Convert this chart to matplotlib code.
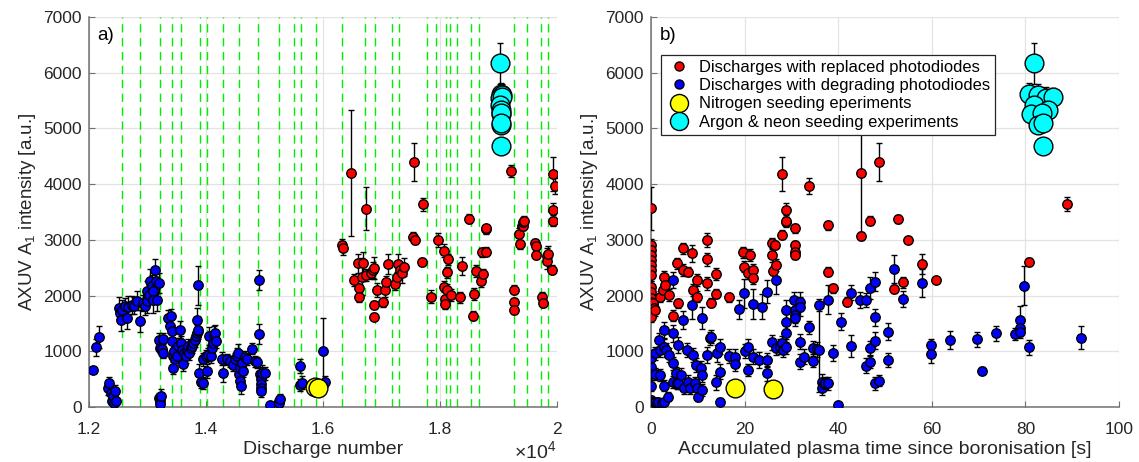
import matplotlib
matplotlib.use("Agg")
import matplotlib.pyplot as plt
from matplotlib.lines import Line2D
from matplotlib.ticker import FuncFormatter
import numpy as np

plt.rcParams['font.family'] = ['Liberation Sans', 'DejaVu Sans']
plt.rcParams['mathtext.default'] = 'regular'

# ---------------- data: panel a) (x = discharge number) ----------------
a_blue_x = [12074, 12120, 12165,
            12330, 12348, 12370, 12390, 12405, 12430, 12445, 12470,
            12519, 12530, 12547, 12564, 12615, 12644, 12672, 12729, 12769, 12815, 12872, 12917,
            12957, 12986, 12997, 13031, 13043, 13071, 13088, 13100, 13123, 13145, 13168, 13191,
            13202, 13208, 13213, 13225,
            13191, 13213, 13242, 13270, 13259,
            13356, 13402, 13385, 13419, 13413, 13430, 13430, 13453, 13470, 13499, 13527, 13556,
            13567, 13584, 13613, 13624, 13658, 13670, 13687, 13715, 13738, 13755, 13783, 13812,
            13829, 13840, 13852, 13858, 13863, 13869,
            13886, 13909, 13943, 13954, 14000, 14011, 14040, 14057, 14080, 14097, 14114, 14137, 14154, 14171,
            14268, 14296, 14353, 14410, 14467, 14496, 14524, 14553, 14564, 14581, 14581, 14593, 14610, 14627, 14667, 14695,
            14792, 14838, 14866, 14912, 14912, 14923, 14934, 14934, 14940, 14940, 14952, 15009, 15094,
            15248, 15254, 15260,
            15607, 15607, 15647,
            15994, 16034]
a_blue_y = [656, 1073, 1252,
            346, 435, 257, 107, 197, 77, 286, 107,
            1777, 1688, 1568, 1747, 1807, 1598, 1795, 1837, 1819, 1908, 1550, 1866,
            1807, 2075, 1896, 2015, 2254, 2165, 2075, 1926, 2463, 2254, 1926, 2224,
            167, 107, 48, 197,
            1210, 1061, 1043, 972, 1222,
            1598, 1628, 1449, 1360, 1181, 912, 704, 1002, 853, 912, 1091, 1389,
            1151, 1032, 763, 972, 912, 1032, 1091, 972, 1061, 1091, 1151, 1210,
            1270, 1330, 1568, 2182, 1360, 1389,
            614, 453, 435, 853, 912, 644, 942, 1270, 912, 1061, 1151, 1300, 1330, 1181,
            865, 614, 853, 823, 745, 853, 912, 972, 584, 704, 465, 376, 793, 644, 900, 853,
            1043, 823, 805, 2284, 1318, 584, 495, 405, 346, 286, 614, 602, 36,
            100, 77, 137,
            733, 394, 435,
            1005, 454]
a_blue_err = [30, 150, 200,
              130, 100, 100, 60, 90, 60, 100, 60,
              200, 150, 200, 180, 150, 200, 200, 160, 150, 170, 200, 150,
              160, 180, 200, 170, 220, 200, 170, 230, 200, 220, 200, 180,
              80, 60, 40, 120,
              120, 100, 100, 90, 100,
              150, 130, 120, 120, 150, 100, 120, 130, 120, 130, 150, 150,
              130, 130, 120, 130, 130, 120, 130, 120, 110, 120, 110, 130,
              120, 140, 200, 350, 140, 120,
              150, 120, 110, 120, 110, 130, 120, 160, 120, 130, 120, 150, 150, 130,
              120, 160, 100, 100, 100, 120, 140, 160, 120, 100, 140, 150, 120, 100, 110, 100,
              100, 100, 100, 180, 180, 130, 100, 100, 100, 100, 140, 110, 40,
              80, 60, 100,
              120, 100, 120,
              600, 100]

a_red_x = [16319, 16336, 16479, 16536, 16604, 16616, 16621, 16661, 16690, 16730, 16735,
           16815, 16849, 16872, 16872, 16878, 16918, 17032, 17060, 17077, 17106, 17231,
           17259, 17288, 17316, 17345, 17385, 17533, 17561, 17573, 17687, 17710, 17846,
           17972, 18068, 18068, 18086, 18086, 18114, 18114, 18143, 18183, 18342, 18382,
           18502, 18559, 18581, 18610, 18701, 18713, 18730, 18781, 18781, 18787, 19220,
           19271, 19271, 19271, 19351, 19368, 19396, 19413, 19425, 19436, 19624, 19641,
           19641, 19738, 19767, 19824, 19835, 19852, 19909, 19938, 19938, 19938, 19972]
a_red_y = [2908, 2848, 4207, 2280, 2579, 2130, 1969, 2340, 2579, 3561, 2370,
           2400, 2460, 2501, 1831, 1622, 2101, 1879, 2101, 2250, 2561, 2202,
           2328, 2567, 2460, 2400, 2519, 3058, 4392, 2998, 2609, 3638, 1981,
           2998, 2807, 2160, 1933, 1843, 2418, 2101, 2651, 2011, 1969, 2531,
           3381, 1640, 2029, 2442, 2262, 2777, 2382, 2789, 3189, 3208, 4237,
           2101, 1879, 1742, 3106, 2920, 3249, 3255, 3327, 3345, 2938, 2890,
           2729, 1981, 1873, 2711, 2627, 2741, 2460, 3537, 3345, 4183, 3968]
a_red_err = [100, 120, 1130, 100, 170, 80, 80, 330, 200, 390, 100,
             100, 150, 200, 80, 60, 120, 80, 120, 100, 180, 100,
             100, 180, 120, 180, 160, 80, 340, 80, 70, 120, 120,
             130, 120, 100, 80, 80, 100, 100, 100, 100, 100, 170,
             80, 80, 110, 100, 100, 80, 100, 80, 80, 60, 100,
             80, 80, 80, 100, 80, 80, 80, 80, 80, 80, 80,
             80, 80, 80, 150, 150, 150, 80, 120, 100, 300, 150]

a_yellow_x = [15870, 15919]
a_yellow_y = [364, 335]

a_cyan_x = [19026, 19035, 19054, 19030, 19058, 19030, 19050, 19040, 19045, 19035, 19040, 19043]
a_cyan_y = [6169, 5619, 5601, 5541, 5571, 5421, 5332, 5260, 5272, 5062, 5104, 4691]
a_cyan_err = [370, 200, 200, 200, 150, 150, 150, 150, 150, 150, 150, 100]

a_green_lines = [12569, 12877, 13214, 13424, 13567, 13892, 14012, 14285, 14569, 14894,
                 15253, 15504, 15619, 15875, 16330, 16723, 16884, 17185, 17304, 17783,
                 17932, 18097, 18176, 18290, 18535, 18667, 19270, 19482, 19721, 19846]

# ---------------- data: panel b) (x = accumulated plasma time) ----------------
b_red_x = [0, 0, 0, 0, 0, 0, 0, 0, 0, 0, 0, 0, 0, 0, 0.35, 0.64, 0.85,
           1.9, 2.6, 2.8, 3.0, 3.9, 4.8, 5.5, 5.8, 6.8, 6.9, 8.0, 8.7, 8.9, 9.9, 9.9,
           11.9, 12.0, 11.9, 12.8, 13.9, 13.9, 16.7, 19.7, 19.9, 20.8, 21.1, 21.8, 21.8,
           25.8, 25.8, 26.0, 26.5, 26.8, 27.9, 27.9, 28.8, 28.8, 28.8, 30.7, 30.7, 30.7, 30.7,
           33.8, 37.9, 37.9, 38.8, 41.8, 44.8, 44.8, 46.7, 48.7, 51.9, 52.8, 54.9, 53.9,
           57.8, 60.8, 80.8, 88.9]
b_red_y = [3567, 2908, 2818, 2729, 2639, 2549, 2460, 2370, 2160, 2071, 1965, 1891, 1801, 1622, 1861, 1771, 1742,
           1981, 2101, 2340, 2190, 2011, 1640, 2579, 1861, 2848, 2460, 2430, 2759, 2101, 2280, 1981,
           2998, 2651, 2220, 1873, 2388, 2029, 1969, 2777, 2519, 2400, 2729, 2460, 2310,
           2938, 2729, 2448, 2908, 2549, 3088, 4183, 3327, 3537, 3339, 3207, 2908, 2789, 2729,
           3968, 3261, 2430, 2130, 1891, 4207, 3070, 3345, 4392, 2118, 3375, 2998, 2238,
           2561, 2280, 2609, 3644]
b_red_err = [390, 100, 100, 100, 100, 100, 100, 100, 100, 100, 100, 100, 100, 100, 100, 100, 100,
             100, 100, 100, 100, 100, 100, 100, 80, 100, 100, 80, 150, 100, 100, 100,
             130, 120, 120, 80, 100, 80, 80, 100, 100, 100, 100, 100, 100,
             100, 120, 80, 80, 100, 80, 300, 80, 120, 100, 80, 80, 80, 80,
             150, 80, 80, 80, 80, 1130, 80, 80, 340, 80, 80, 60, 100,
             180, 60, 60, 120]

b_blue_x = [0, 0, 0, 0, 0, 0.35, 0.85, 0.85, 0.85, 1.2, 1.6, 1.8, 1.9, 1.9, 2.3,
            2.8, 2.8, 2.8, 2.8, 3.3, 3.7, 3.9, 4.8, 4.8, 4.8, 4.8, 5.3, 5.6, 5.8, 5.8,
            6.5, 6.8, 7.0, 7.6, 8.0, 8.3, 8.7, 8.9, 9.4, 9.7, 9.9, 10.1, 10.6, 10.8, 10.8,
            11.0, 11.9, 12.7, 12.9, 13.9, 14.0, 14.7, 14.7, 14.7, 16.7, 17.9, 17.9, 18.9,
            19.9, 20.1, 20.8, 20.8, 21.8, 21.8, 23.0, 23.8, 24.7, 24.7, 24.7, 25.8, 26.7,
            26.8, 27.5, 27.9, 28.2, 28.8, 28.8, 28.8, 28.8, 30.6, 30.7, 30.7, 30.7, 31.8,
            31.8, 31.8, 31.8, 32.7, 33.8, 34.7, 34.7, 35.4, 35.9, 35.9, 36.6, 36.6, 36.9,
            37.1, 37.9, 37.9, 38.8, 40.0, 40.7, 42.7, 42.8, 44.6, 45.9, 45.9, 46.8, 46.8,
            46.8, 47.8, 47.8, 47.8, 47.8, 48.7, 50.7, 50.7, 51.9, 53.9, 57.8, 59.8, 59.8,
            63.8, 69.7, 70.8, 73.8, 77.7, 78.8, 78.8, 78.8, 79.8, 80.8, 91.8]
b_blue_y = [725, 874, 593, 383, 126, 96, 96, 964, 593, 66, 96, 1203, 1024, 575, 66,
            1383, 1083, 383, 96, 1024, 186, 934, 2280, 1323, 784, 455, 604, 425, 1113, 425,
            575, 1562, 336, 1024, 455, 336, 1831, 934, 425, 754, 336, 186, 694, 1592, 575,
            306, 934, 1233, 1263, 443, 964, 1083, 634, 96, 916, 904, 766, 1753,
            2041, 1006, 1083, 664, 1843, 904, 844, 1801, 2071, 844, 604, 1161, 2280,
            1053, 1083, 1143, 1024, 1323, 1532, 1742, 1083, 1921, 1742, 1652, 1592, 1891,
            1801, 1173, 814, 904, 1430, 1053, 832, 1036, 1831, 1024, 455, 336, 407,
            425, 1921, 425, 964, 36, 1532, 1095, 2053, 1921, 1921, 742, 814, 1053,
            2130, 2250, 1610, 1191, 425, 473, 1352, 844, 2472, 1939, 2232, 1113, 946,
            1203, 1215, 653, 1323, 1311, 1562, 1413, 1352, 2178, 1071, 1245]
b_blue_err = [120, 120, 100, 100, 80, 60, 60, 120, 100, 60, 60, 130, 120, 100, 50,
              150, 130, 100, 60, 120, 80, 130, 150, 150, 120, 110, 120, 100, 150, 100,
              120, 170, 100, 130, 120, 100, 260, 130, 110, 130, 100, 80, 130, 200, 120,
              100, 150, 120, 120, 130, 150, 140, 130, 60, 130, 130, 120, 170,
              260, 120, 130, 110, 270, 140, 140, 230, 200, 130, 130, 130, 260,
              120, 130, 130, 130, 150, 140, 180, 140, 150, 140, 140, 140, 170,
              170, 140, 130, 130, 120, 130, 120, 130, 100, 760, 130, 120, 110,
              110, 260, 120, 140, 40, 150, 200, 130, 150, 120, 140, 120, 130,
              200, 170, 150, 150, 120, 100, 150, 120, 250, 150, 250, 100, 150,
              170, 130, 60, 130, 100, 250, 130, 120, 350, 130, 200]

b_yellow_x = [17.9, 26.0]
b_yellow_y = [336, 318]

b_cyan_x = [81.8, 80.8, 82.7, 84.5, 85.8, 81.8, 84.8, 81.3, 83.6, 82.7, 83.8, 83.8]
b_cyan_y = [6169, 5619, 5601, 5541, 5571, 5421, 5332, 5260, 5272, 5062, 5104, 4691]
b_cyan_err = [370, 200, 200, 200, 150, 150, 150, 150, 150, 150, 150, 100]

legend_labels = ['Discharges with replaced photodiodes',
                 'Discharges with degrading photodiodes',
                 'Nitrogen seeding eperiments',
                 'Argon & neon seeding experiments']

# ---------------- drawing ----------------
W, H = 1139, 462
fig = plt.figure(figsize=(W / 100, H / 100), dpi=100)
ax1 = fig.add_axes([89 / W, 1 - 407 / H, 468 / W, 390 / H])
ax2 = fig.add_axes([651 / W, 1 - 407 / H, 468 / W, 390 / H])

SMALL = 6.8
BIG = 13.5
GRID = '#e3e3e3'
SPINE = '#707070'
TXT = '#262626'


def pts(ax, x, y, err, color, ms, z):
    if err is not None:
        ax.errorbar(x, y, yerr=err, fmt='none', ecolor='black', elinewidth=1.0,
                    capsize=2.5, capthick=1.0, zorder=z)
    ax.plot(x, y, 'o', ls='none', mfc=color, mec='black', mew=1.0, ms=ms, zorder=z + 0.5)


def style(ax):
    ax.set_ylim(0, 7000)
    ax.set_yticks(np.arange(0, 7001, 1000))
    ax.grid(True, color=GRID, lw=0.9, zorder=0)
    ax.set_axisbelow(True)
    for s in ['top', 'right']:
        ax.spines[s].set_visible(False)
    for s in ['left', 'bottom']:
        ax.spines[s].set_color(SPINE)
        ax.spines[s].set_linewidth(1.1)
    ax.tick_params(direction='in', length=4, width=0.8, color=SPINE,
                   labelsize=12.5, labelcolor=TXT)
    ax.tick_params(axis='y', pad=5)
    ax.tick_params(axis='x', pad=10.5)
    ax.set_ylabel('AXUV A$_1$ intensity [a.u.]', fontsize=13.5, color=TXT)


# panel a
for xv in a_green_lines:
    ax1.axvline(xv, color='#00ee00', lw=1.0, ls=(0, (6, 4)), zorder=1)
pts(ax1, a_blue_x, a_blue_y, a_blue_err, '#0000ff', SMALL, 3)
pts(ax1, a_red_x, a_red_y, a_red_err, '#ff0000', SMALL, 3)
pts(ax1, a_cyan_x, a_cyan_y, a_cyan_err, '#00ffff', BIG, 5)
pts(ax1, a_yellow_x, a_yellow_y, None, '#ffff00', BIG, 5)
ax1.set_xlim(12000, 20000)
ax1.set_xticks([12000, 14000, 16000, 18000, 20000])
ax1.xaxis.set_major_formatter(FuncFormatter(lambda v, p: '%g' % (v / 1e4)))
style(ax1)
ax1.set_xlabel('Discharge number', fontsize=14, color=TXT, labelpad=3)
fig.text(514 / W, 1 - 451 / H, r'$\times10^{4}$', fontsize=14,
         color=TXT, ha='left', va='center')
ax1.text(0.018, 0.975, 'a)', transform=ax1.transAxes, fontsize=13.5, va='top', ha='left')

# panel b
pts(ax2, b_blue_x, b_blue_y, b_blue_err, '#0000ff', SMALL, 3)
pts(ax2, b_red_x, b_red_y, b_red_err, '#ff0000', SMALL, 3)
pts(ax2, b_cyan_x, b_cyan_y, b_cyan_err, '#00ffff', BIG, 5)
pts(ax2, b_yellow_x, b_yellow_y, None, '#ffff00', BIG, 5)
ax2.set_xlim(0, 100)
ax2.set_xticks(np.arange(0, 101, 20))
style(ax2)
ax2.set_xlabel('Accumulated plasma time since boronisation [s]', fontsize=14,
               color=TXT, labelpad=3)
ax2.text(0.018, 0.975, 'b)', transform=ax2.transAxes, fontsize=13.5, va='top', ha='left')

handles = [Line2D([], [], marker='o', ls='none', mfc='#ff0000', mec='k', ms=6.5),
           Line2D([], [], marker='o', ls='none', mfc='#0000ff', mec='k', ms=6.5),
           Line2D([], [], marker='o', ls='none', mfc='#ffff00', mec='k', ms=13),
           Line2D([], [], marker='o', ls='none', mfc='#00ffff', mec='k', ms=13)]
leg = ax2.legend(handles, legend_labels, loc='upper left', bbox_to_anchor=(0.021, 0.903),
                 borderaxespad=0, fontsize=11.9, frameon=True, fancybox=False,
                 edgecolor=TXT, framealpha=1, borderpad=0.3, labelspacing=0.2,
                 handletextpad=0.4, handlelength=1.6)
leg.get_frame().set_linewidth(0.9)
leg.set_zorder(10)

fig.savefig('out.png', dpi=100)
